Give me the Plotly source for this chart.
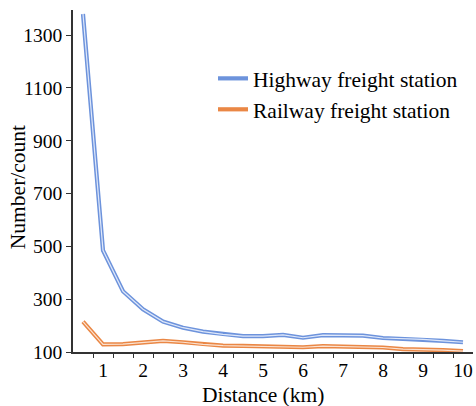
import plotly.graph_objects as go

distance = [0.5, 1, 1.5, 2, 2.5, 3, 3.5, 4, 4.5, 5, 5.5, 6, 6.5, 7, 7.5, 8, 8.5, 9, 9.5, 10]
highway = [1380, 485, 330, 262, 215, 192, 177, 167, 160, 160, 165, 154, 164, 163, 162, 153, 150, 148, 142, 137]
railway = [215, 129, 130, 135, 142, 137, 129, 124, 123, 121, 120, 118, 122, 121, 120, 117, 111, 110, 107, 103]

series = [
    ("Highway freight station", highway, "#6d93dc", "#dfe8fa"),
    ("Railway freight station", railway, "#ea8745", "#fbe3d2"),
]

FONT = "Liberation Serif"

fig = go.Figure()
for name, vals, col, inner in series:
    fig.add_trace(go.Scatter(x=distance, y=vals, mode="lines", name=name,
                             line=dict(color=col, width=4.2), showlegend=True))
    fig.add_trace(go.Scatter(x=distance, y=vals, mode="lines", name=name,
                             line=dict(color=inner, width=1.2), showlegend=False,
                             hoverinfo="skip"))

minor_vals = [0.25 + 0.5 * i for i in range(1, 20)]

fig.update_layout(
    width=476, height=406,
    margin=dict(l=73, r=3, t=10, b=54),
    paper_bgcolor="white", plot_bgcolor="white",
    font=dict(family=FONT, size=20, color="black"),
    showlegend=True,
    legend=dict(x=0.35, y=0.86, xanchor="left", yanchor="top",
                bgcolor="rgba(0,0,0,0)", font=dict(size=21.5, family=FONT),
                tracegroupgap=0, itemwidth=30),
    xaxis=dict(range=[0.25, 10.25], tickvals=list(range(1, 11)), ticks="",
               showgrid=False, zeroline=False, showline=True, linecolor="#333",
               linewidth=1.5, tickfont=dict(size=19.5, family=FONT),
               minor=dict(tickvals=minor_vals, ticks="outside", ticklen=4,
                          tickcolor="#333", tickwidth=1.2, showgrid=False)),
    yaxis=dict(range=[100, 1395], tickvals=[100, 300, 500, 700, 900, 1100, 1300],
               ticks="outside", ticklen=5, tickcolor="#333", tickwidth=1.2,
               showgrid=False, zeroline=False, showline=True, linecolor="#333",
               linewidth=1.5, tickfont=dict(size=19.5, family=FONT)),
    annotations=[
        dict(text="Distance (km)", xref="paper", yref="paper", x=0.475, y=-0.085,
             xanchor="center", yanchor="top", showarrow=False,
             font=dict(size=21.5, family=FONT)),
        dict(text="Number/count", xref="paper", yref="paper", x=-0.1375, y=0.482,
             xanchor="center", yanchor="middle", textangle=-90, showarrow=False,
             font=dict(size=21.5, family=FONT)),
    ],
)

fig.write_html("out.html")
